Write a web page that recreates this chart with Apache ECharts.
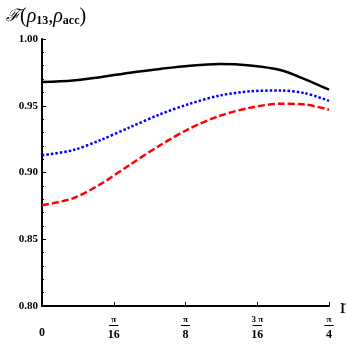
<!DOCTYPE html>
<html><head><meta charset="utf-8">
<script src="https://cdn.jsdelivr.net/npm/echarts@6/dist/echarts.min.js"></script>
<style>html,body{margin:0;padding:0;background:#fff}#c{width:346px;height:346px}</style>
</head><body><div id="c"></div>
<script>
// r values in units of pi/16
var rVals = [0, 0.43, 0.81, 1.23, 1.645, 2.06, 2.48, 2.9, 3.32, 3.66, 4.0];
var blackVals = [0.9677, 0.9690, 0.9714, 0.9748, 0.9776, 0.9800, 0.9813, 0.9802, 0.9768, 0.9700, 0.9620];
var blueVals  = [0.9129, 0.9167, 0.9242, 0.9340, 0.9436, 0.9515, 0.9577, 0.9608, 0.9614, 0.9595, 0.9537];
var redVals   = [0.8756, 0.8806, 0.8911, 0.9060, 0.9204, 0.9330, 0.9425, 0.9485, 0.9515, 0.9510, 0.9470];
var xTickLabels = ['0', 'π/16', 'π/8', '3 π/16', 'π/4'];

function pairs(v){ return rVals.map(function(x,i){ return [x, v[i]]; }); }
var serif = '"Liberation Serif", "DejaVu Serif", serif';
var chart = echarts.init(document.getElementById('c'));
chart.setOption({
  animation: false,
  title: {
    left: 1, top: 2,
    text: '{f|ℱ}{p|(}{r|ρ}{s|13}{p|,}{r|ρ}{s|acc}{p|)}',
    textStyle: {
      fontWeight: 'normal',
      rich: {
        f: {fontFamily: '"DejaVu Serif", serif', fontStyle: 'italic', fontWeight: 'normal', fontSize: 17, color: '#000'},
        p: {fontFamily: serif, fontWeight: 'normal', fontSize: 20, color: '#000'},
        r: {fontFamily: serif, fontStyle: 'italic', fontWeight: 'normal', fontSize: 20, color: '#000'},
        s: {fontFamily: serif, fontWeight: 'bold', fontSize: 12, color: '#000', padding: [8, 0, 0, 0]}
      }
    }
  },
  grid: {left: 42, right: 17, top: 39, bottom: 40, containLabel: false, outerBoundsMode: 'none'},
  xAxis: {
    type: 'value', min: 0, max: 4, interval: 1,
    name: 'r', nameLocation: 'end', nameGap: -2,
    nameTextStyle: {fontFamily: serif, fontSize: 22, color: '#000', align: 'left', verticalAlign: 'top', padding: [-10, 0, 0, 0]},
    axisLine: {lineStyle: {color: '#000', width: 2}},
    axisTick: {inside: true, length: 4, lineStyle: {color: '#000', width: 1}},
    splitLine: {show: false},
    axisLabel: {
      margin: 9,
      formatter: function(v){
        var s = xTickLabels[Math.round(v)];
        if (s.indexOf('/') < 0) return '{z|' + s + '}';
        var parts = s.split('/');
        return '{n|' + parts[0] + '}\n{bar|}\n{d|' + parts[1] + '}';
      },
      rich: {
        z: {fontFamily: serif, fontWeight: 'bold', fontSize: 12, color: '#000', lineHeight: 36},
        n: {fontFamily: serif, fontWeight: 'bold', fontSize: 9, color: '#000', lineHeight: 9, align: 'center'},
        bar: {width: 9, height: 0, lineHeight: 3, borderWidth: 1, borderColor: '#000', align: 'center'},
        d: {fontFamily: serif, fontWeight: 'bold', fontSize: 12, color: '#000', lineHeight: 16, align: 'center'}
      }
    }
  },
  yAxis: {
    type: 'value', min: 0.8, max: 1.0, interval: 0.05,
    axisLine: {show: true, lineStyle: {color: '#000', width: 2}},
    axisTick: {show: true, inside: true, length: 4, lineStyle: {color: '#000', width: 1}},
    minorTick: {show: true, splitNumber: 5, length: 2, lineStyle: {color: '#000', width: 1}},
    splitLine: {show: false},
    axisLabel: {
      margin: 4,
      fontFamily: serif, fontWeight: 'bold', fontSize: 11, color: '#000',
      formatter: function(v){ return v.toFixed(2); }
    }
  },
  series: [
    {type: 'line', data: pairs(blackVals), smooth: 0.3, showSymbol: false,
     lineStyle: {color: '#000', width: 2.5, type: 'solid'}},
    {type: 'line', data: pairs(blueVals), smooth: 0.3, showSymbol: false,
     lineStyle: {color: '#0000ff', width: 2.5, type: [2.5, 2]}},
    {type: 'line', data: pairs(redVals), smooth: 0.3, showSymbol: false,
     lineStyle: {color: '#ff0000', width: 2.5, type: [7, 3]}}
  ]
});
</script></body></html>
